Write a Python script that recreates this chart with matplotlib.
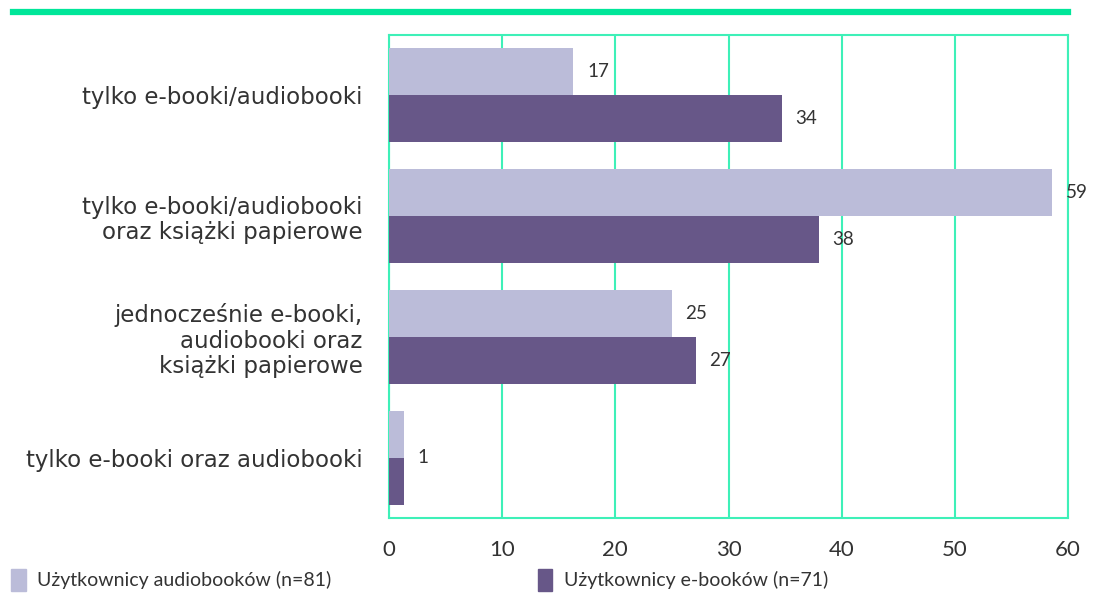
import matplotlib.pyplot as plt
from matplotlib.patches import Patch
import numpy as np

# Data
categories = ["tylko e-booki/audiobooki",
              "tylko e-booki/audiobooki\noraz książki papierowe",
              "jednocześnie e-booki,\naudiobooki oraz\nksiążki papierowe",
              "tylko e-booki oraz audiobooki"]
audio_vals = [16.3, 58.6, 25.0, 1.3]
ebook_vals = [34.7, 38.0, 27.1, 1.3]
audio_labels = ["17", "59", "25", ""]
ebook_labels = ["34", "38", "27", "1"]
series_names = ["Użytkownicy audiobooków (n=81)", "Użytkownicy e-booków (n=71)"]

# Styles
light_color = "#bbbcd9"
dark_color = "#675788"
grid_color = "#3ef0b8"
top_color = "#00e699"
text_color = "#333333"
plt.rcParams['font.family'] = ['Lato', 'DejaVu Sans']

fig = plt.figure(figsize=(10.94, 6.08), dpi=100)
ax = fig.add_axes([389/1094, 1-518/608, (1068-389)/1094, (518-35)/608])

y = np.arange(len(categories))
h = 0.39
ax.barh(y - h/2, audio_vals, height=h, color=light_color, zorder=3)
ax.barh(y + h/2, ebook_vals, height=h, color=dark_color, zorder=3)

# Value labels
for i in range(len(categories)):
    if audio_labels[i]:
        ax.text(audio_vals[i] + 1.2, y[i] - h/2, audio_labels[i], va='center', ha='left',
                fontsize=13.5, color=text_color, zorder=4)
    if ebook_labels[i]:
        yy = y[i] + h/2 if audio_labels[i] else y[i]
        ax.text(ebook_vals[i] + 1.2, yy, ebook_labels[i], va='center', ha='left',
                fontsize=13.5, color=text_color, zorder=4)

ax.set_xlim(0, 60)
ax.set_ylim(len(categories) - 0.5, -0.5)
ax.set_xticks(range(0, 61, 10))
ax.set_yticks(y)
ax.set_yticklabels(categories, fontsize=16.5, color=text_color, ha='right',
                   multialignment='right', family=['DejaVu Sans'], linespacing=1.15)
ax.tick_params(axis='y', length=0, pad=19)
ax.tick_params(axis='x', length=0, pad=16, labelsize=16, labelcolor=text_color)
ax.grid(axis='x', color=grid_color, linewidth=1.5, zorder=0)
for s in ax.spines.values():
    s.set_color(grid_color)
    s.set_linewidth(1.5)

# Top accent line
fig.add_artist(plt.Line2D([13/1094, 1068/1094], [1-12/608, 1-12/608],
                          color=top_color, linewidth=4.5))

# Legend
handles = [Patch(color=light_color), Patch(color=dark_color)]
fig.legend(handles, series_names, loc='lower left', bbox_to_anchor=(-0.006, 0.0), ncol=2,
           frameon=False, fontsize=14, handlelength=0.75, handleheight=1.3,
           handletextpad=0.6, columnspacing=10.6, labelcolor=text_color)

fig.savefig("out.png", dpi=100)
